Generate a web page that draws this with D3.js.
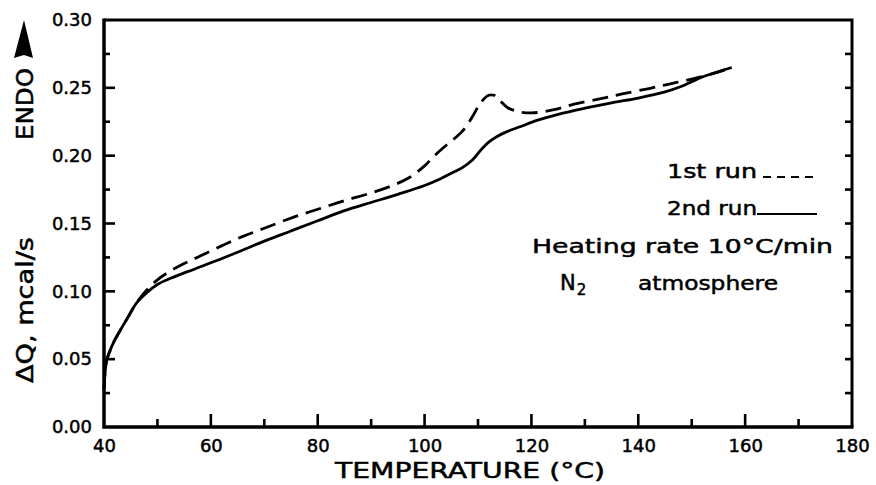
<!DOCTYPE html>
<html>
<head>
<meta charset="utf-8">
<script src="https://cdn.jsdelivr.net/npm/d3@7"></script>
<style>
  html, body { margin: 0; padding: 0; background: #fff; }
  svg { display: block; }
  text { font-family: "DejaVu Sans", sans-serif; fill: #000; stroke: #000; stroke-width: 0.5px; }
</style>
</head>
<body>
<svg id="chart" width="876" height="485"></svg>
<script>
// DSC traces: temperature (°C) vs. heat flow ΔQ (mcal/s)
const run2Temp = [40, 40.2, 40.5, 41, 42, 43, 44.5, 46, 48, 50, 53, 57, 61, 66, 70, 75, 80, 85, 90, 95, 100, 103, 105, 107, 109, 110.5, 112, 113.5, 115, 118, 121, 125, 130, 135, 140, 145, 148, 152, 155, 157.5];
const run2Q    = [0.028, 0.040, 0.049, 0.055, 0.064, 0.071, 0.081, 0.091, 0.099, 0.105, 0.1105, 0.1165, 0.1225, 0.1305, 0.137, 0.1445, 0.152, 0.1595, 0.1655, 0.1715, 0.178, 0.183, 0.187, 0.191, 0.197, 0.204, 0.210, 0.214, 0.217, 0.2215, 0.226, 0.2305, 0.235, 0.239, 0.2425, 0.247, 0.251, 0.258, 0.262, 0.265];

const run1Temp = [40, 40.2, 40.5, 41, 42, 43, 44.5, 46, 48, 50, 52, 55, 58, 62, 66, 70, 75, 80, 85, 90, 94, 97, 100, 102, 104, 106, 107.5, 109, 110.5, 112, 113, 114, 115.5, 117.5, 120, 124, 128, 133, 137, 142, 146, 150, 154, 157.5];
const run1Q    = [0.028, 0.040, 0.049, 0.055, 0.064, 0.071, 0.081, 0.091, 0.101, 0.1085, 0.114, 0.1205, 0.126, 0.1335, 0.1405, 0.1465, 0.154, 0.1605, 0.1668, 0.1725, 0.178, 0.1835, 0.1925, 0.2005, 0.2075, 0.214, 0.220, 0.229, 0.239, 0.2445, 0.2445, 0.241, 0.2355, 0.2325, 0.2315, 0.2337, 0.238, 0.242, 0.2455, 0.2495, 0.253, 0.2565, 0.2605, 0.265];

const xMajorTicks = [40, 60, 80, 100, 120, 140, 160, 180];
const xMinorTicks = [50, 70, 90, 110, 130, 150, 170];
const yMajorTicks = [0, 0.05, 0.10, 0.15, 0.20, 0.25, 0.30];
const yMinorTicks = [0.025, 0.075, 0.125, 0.175, 0.225, 0.275];

const legendLabels = ["1st run", "2nd run"];
const noteLines = ["Heating rate 10\u00B0C/min", "atmosphere"];

const svg = d3.select("#chart");
const plotL = 104, plotR = 852, plotT = 20, plotB = 427;

const x = d3.scaleLinear().domain([40, 180]).range([plotL, plotR]);
const y = d3.scaleLinear().domain([0, 0.30]).range([plotB, plotT]);

// tick labels via d3 axes
const gx = svg.append("g").attr("transform", `translate(0,${plotB})`)
  .call(d3.axisBottom(x).tickValues(xMajorTicks).tickSize(0).tickPadding(12).tickFormat(d3.format("d")));
const gy = svg.append("g").attr("transform", `translate(${plotL},0)`)
  .call(d3.axisLeft(y).tickValues(yMajorTicks).tickSize(0).tickPadding(12).tickFormat(d3.format(".2f")));
[gx, gy].forEach(g => {
  g.select(".domain").remove();
  g.selectAll(".tick line").remove();
  g.selectAll(".tick text")
    .style("font-family", "DejaVu Sans, sans-serif")
    .style("font-size", "18px")
    .attr("fill", "#000").attr("stroke", "#000").attr("stroke-width", 0.5);
});

// inward tick marks as small filled bars
const tw = 2.6;
const tickSpecs = [];
xMajorTicks.filter(v => v > 40 && v < 180).forEach(v => tickSpecs.push({ x: x(v) - tw / 2, y: plotB - 13, w: tw, h: 13 }));
xMinorTicks.forEach(v => tickSpecs.push({ x: x(v) - tw / 2, y: plotB - 8, w: tw, h: 8 }));
yMajorTicks.filter(v => v > 0 && v < 0.3).forEach(v => tickSpecs.push({ x: plotL, y: y(v) - tw / 2, w: 11, h: tw }));
yMinorTicks.forEach(v => tickSpecs.push({ x: plotL, y: y(v) - tw / 2, w: 6, h: tw }));
yMajorTicks.filter(v => v > 0 && v < 0.3).concat(yMinorTicks)
  .forEach(v => tickSpecs.push({ x: plotR - 7, y: y(v) - tw / 2, w: 7, h: tw }));

svg.append("g").selectAll("rect")
  .data(tickSpecs)
  .enter().append("rect")
  .attr("x", d => d.x).attr("y", d => d.y)
  .attr("width", d => d.w).attr("height", d => d.h)
  .attr("fill", "#000");

// frame
svg.append("path")
  .attr("d", `M${plotL},${plotT}H${plotR}V${plotB}`)
  .style("fill", "none").style("stroke", "#000").style("stroke-width", "3px");
svg.append("path")
  .attr("d", `M${plotL},${plotT - 1.5}V${plotB}H${plotR + 1.5}`)
  .style("fill", "none").style("stroke", "#000").style("stroke-width", "3.5px");

// curves
const line = d3.line().x(d => x(d[0])).y(d => y(d[1])).curve(d3.curveCatmullRom.alpha(0.5));

svg.append("path")
  .datum(run1Temp.map((t, i) => [t, run1Q[i]]))
  .attr("d", line)
  .attr("fill", "none").attr("stroke", "#000").attr("stroke-width", 2.8)
  .attr("stroke-dasharray", "16,8");

svg.append("path")
  .datum(run2Temp.map((t, i) => [t, run2Q[i]]))
  .attr("d", line)
  .attr("fill", "none").attr("stroke", "#000").attr("stroke-width", 2.8);

// axis titles
svg.append("text")
  .attr("x", 335).attr("y", 478)
  .attr("textLength", 270).attr("lengthAdjust", "spacingAndGlyphs")
  .style("font-size", "22px")
  .text("TEMPERATURE (\u00B0C)");

svg.append("text")
  .attr("transform", "translate(33,383) rotate(-90)")
  .attr("textLength", 146).attr("lengthAdjust", "spacingAndGlyphs")
  .style("font-size", "23px")
  .text("\u0394Q, mcal/s");

svg.append("text")
  .attr("transform", "translate(33,140) rotate(-90)")
  .attr("textLength", 72).attr("lengthAdjust", "spacingAndGlyphs")
  .style("font-size", "23px")
  .text("ENDO");

svg.append("path")
  .attr("d", "M24,20 L33,58 L24,55 L14,58 Z")
  .attr("fill", "#000");

// legend
svg.append("text").attr("x", 667).attr("y", 178)
  .attr("textLength", 90).attr("lengthAdjust", "spacingAndGlyphs")
  .style("font-size", "20px").text(legendLabels[0]);
svg.append("line").attr("x1", 763).attr("x2", 813).attr("y1", 177).attr("y2", 177)
  .attr("stroke", "#000").attr("stroke-width", 2).attr("stroke-dasharray", "8,6");

svg.append("text").attr("x", 667).attr("y", 215)
  .attr("textLength", 90).attr("lengthAdjust", "spacingAndGlyphs")
  .style("font-size", "20px").text(legendLabels[1]);
svg.append("line").attr("x1", 757).attr("x2", 817).attr("y1", 214).attr("y2", 214)
  .attr("stroke", "#000").attr("stroke-width", 2.2);

svg.append("text").attr("x", 532).attr("y", 253)
  .attr("textLength", 301).attr("lengthAdjust", "spacingAndGlyphs")
  .style("font-size", "20px").text(noteLines[0]);

const n2 = svg.append("text").attr("x", 560).attr("y", 290).style("font-size", "21px");
n2.append("tspan").text("N");
n2.append("tspan").attr("dx", 1).attr("dy", 5).style("font-size", "15px").text("2");
svg.append("text").attr("x", 638).attr("y", 290)
  .attr("textLength", 140).attr("lengthAdjust", "spacingAndGlyphs")
  .style("font-size", "20px").text(noteLines[1]);
</script>
</body>
</html>
